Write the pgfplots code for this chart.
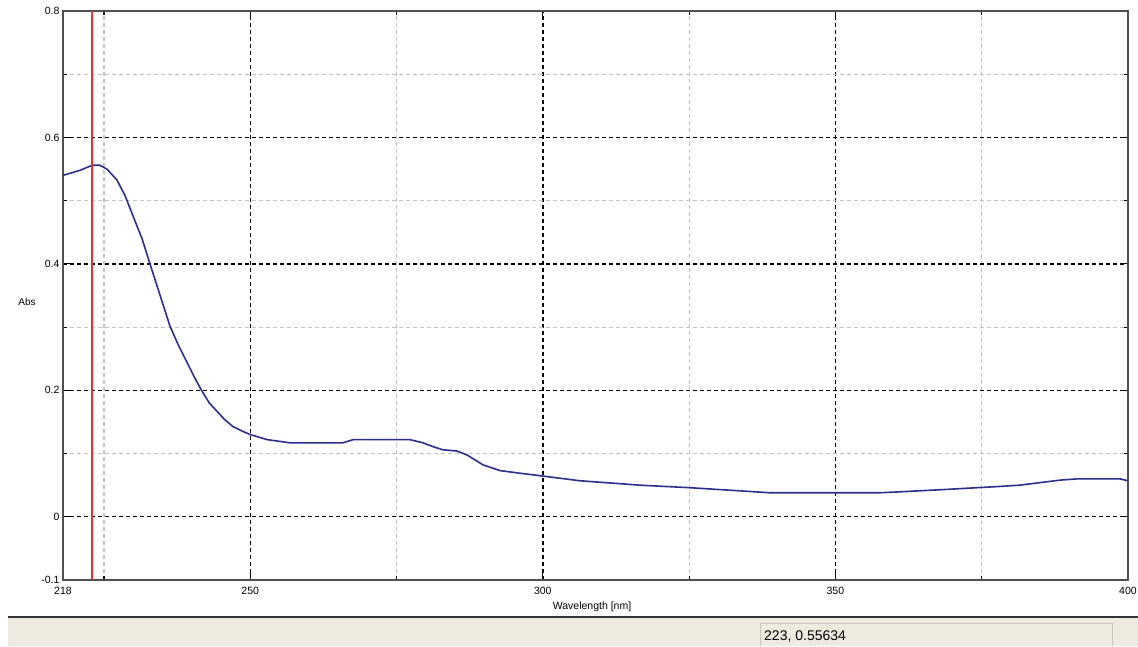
\documentclass[border=0pt]{standalone}
\usepackage{pgfplots}
\pgfplotsset{compat=1.18}
\usepackage{fontspec}
\setmainfont{Liberation Sans}
\definecolor{curve}{RGB}{45,45,140}
\definecolor{redline}{RGB}{228,50,50}
\definecolor{frame}{RGB}{80,80,80}
\definecolor{minorgrid}{RGB}{195,195,195}
\definecolor{statusbg}{RGB}{238,234,223}
\definecolor{boxedge}{RGB}{200,198,190}
\begin{document}
\begin{tikzpicture}[x=1pt,y=1pt]
\path[use as bounding box] (0,0) rectangle (1138,646);
% status bar
\fill[statusbg] (8,0) rectangle (1138,29);
\draw[line width=2.5pt, black!80] (8,29) -- (1138,29);
\draw[boxedge, line width=1pt] (760,0) -- (760,23) -- (1112,23) -- (1112,0);
\node[anchor=base west, inner sep=0pt, font=\fontsize{14}{16}\selectfont] at (764,6) {223, 0.55634};
\begin{axis}[
  at={(63pt,66pt)}, anchor=south west,
  scale only axis, width=1065pt, height=569pt,
  xmin=218, xmax=400, ymin=-0.1, ymax=0.8,
  xtick={218,250,300,350,400},
  ytick={-0.1,0,0.2,0.4,0.6,0.8},
  minor xtick={225,275,325,375},
  minor ytick={0.1,0.3,0.5,0.7},
  yticklabels={-0.1,0,0.2,0.4,0.6,0.8},
  xticklabels={218,250,300,350,400},
  tick align=inside,
  major tick length=8pt, minor tick length=4pt,
  tick style={black, line width=1.2pt},
  grid=both,
  major grid style={black, line width=1.4pt, dash pattern=on 4pt off 3pt},
  minor grid style={minorgrid, line width=1.2pt, dash pattern=on 4pt off 3pt},
  axis line style={frame, line width=2pt},
  ticklabel style={font=\fontsize{10.5}{12}\selectfont},
  xticklabel style={yshift=-4pt},
  /pgf/number format/assume math mode=true,
  clip=true,
  axis on top=false,
]
\addplot[curve, line width=1.6pt] coordinates {
(218,0.540) (220.9,0.548) (223,0.556) (224.3,0.556) (225.5,0.550) (227.2,0.533)
(228.6,0.508) (230.0,0.475) (231.5,0.440) (232.9,0.399) (234.6,0.350) (236.3,0.301)
(237.8,0.270) (239.2,0.244) (240.5,0.220) (241.8,0.198) (243.0,0.180) (244.3,0.167)
(245.6,0.154) (247.0,0.143) (248.5,0.136) (250.0,0.130) (252.9,0.122) (256.8,0.117)
(265.8,0.117) (267.6,0.122) (277.3,0.122) (279.5,0.117) (281.2,0.111) (282.9,0.106)
(285.3,0.104) (287.0,0.098) (288.4,0.090) (289.8,0.082) (292.7,0.073) (296.0,0.069)
(299.5,0.065) (306.3,0.057) (316.6,0.050) (325.1,0.046) (333.7,0.041) (338.8,0.038)
(357.6,0.038) (360,0.039) (368.4,0.043) (378.1,0.048) (381.5,0.050) (388.4,0.058)
(391.4,0.060) (398.6,0.060) (400,0.057)
};
\addplot[redline, line width=1.8pt] coordinates {(223,-0.1) (223,0.8)};
\end{axis}
\node[font=\fontsize{10}{12}\selectfont] at (27,344) {Abs};
\node[font=\fontsize{10.5}{12}\selectfont] at (592,39) {Wavelength [nm]};
\end{tikzpicture}
\end{document}
